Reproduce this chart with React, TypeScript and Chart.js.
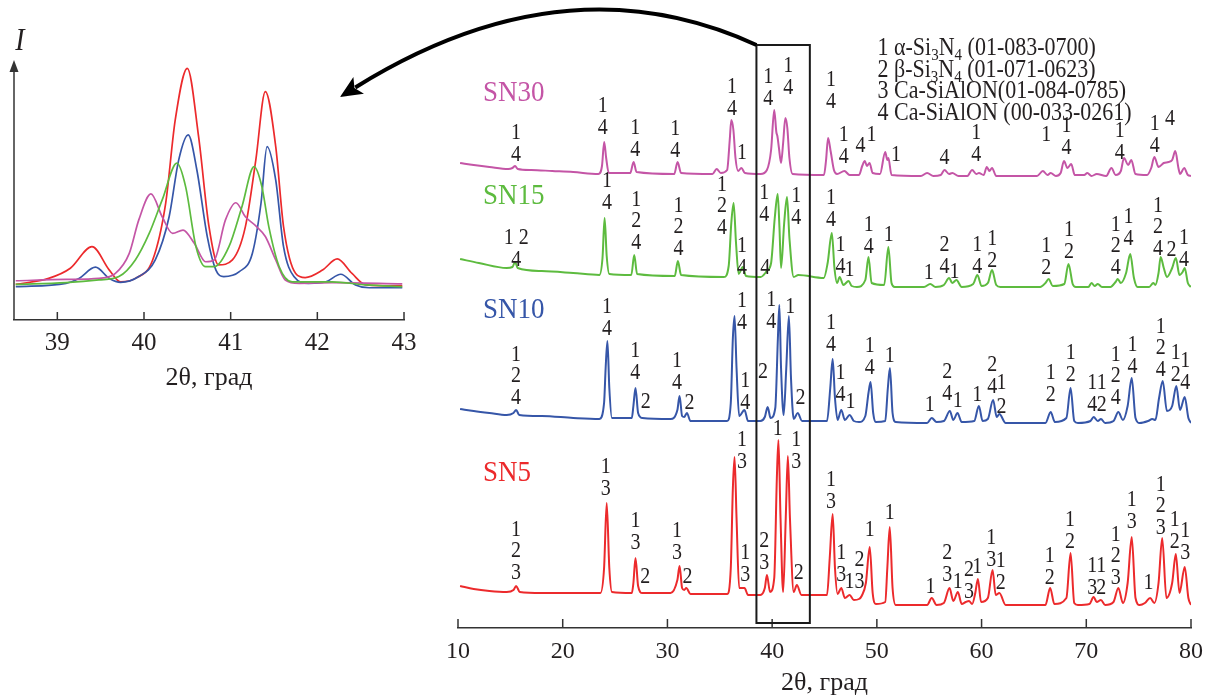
import React, { useEffect, useRef } from "react";
import { Chart, registerables } from "chart.js";

Chart.register(...registerables);

const FONT = '"Liberation Serif", "Times New Roman", serif';
const TEXT = "#231F20";
const AXIS = "#333333";
const RED = "#EC2A2C";
const BLUE = "#3656A8";
const GREEN = "#5DBB3F";
const PINK = "#C455A6";

// ---------- tick labels ----------
const mainTicks = [10, 20, 30, 40, 50, 60, 70, 80];
const insetTicks = [39, 40, 41, 42, 43];

// ---------- main chart: spectra [2θ, I (offset intensity)] ----------
const sn30 = [
  [10.2, 465], [11.5, 463], [13, 461], [14.8, 459], [15.2, 460], [15.45, 462], [15.7, 459], [17, 458], [19, 457], [21, 456],
  [23.4, 454], [23.75, 462], [23.96, 486], [24.15, 470], [24.4, 455], [26.45, 455], [26.77, 466], [27.05, 456], [30.65, 454],
  [30.97, 466], [31.3, 455], [34.3, 454], [34.7, 459], [35.1, 455], [35.7, 458], [35.95, 488], [36.1, 508], [36.3, 498],
  [36.5, 470], [36.75, 457], [37.06, 460], [37.4, 455], [38.9, 454], [39.5, 458], [39.9, 478], [40.2, 518], [40.4, 496],
  [40.5, 492], [40.65, 480], [40.85, 465], [41.05, 485], [41.26, 510], [41.45, 500], [41.65, 470], [41.95, 454], [44.95, 453],
  [45.15, 468], [45.34, 490], [45.6, 476], [45.9, 458], [46.2, 454], [46.9, 457], [47.4, 453], [48.3, 453], [48.6, 462],
  [48.85, 467], [49.05, 462], [49.3, 465], [49.6, 455], [50.3, 454], [50.8, 476], [51.0, 468], [51.1, 470], [51.4, 453],
  [54.2, 452], [54.8, 455], [55.4, 452], [56.1, 453], [56.46, 458], [56.9, 454], [57.2, 455], [57.8, 452], [58.64, 452],
  [59.1, 458], [59.5, 454], [59.75, 455], [60.2, 453], [60.5, 461], [60.75, 457], [61.0, 460], [61.4, 452], [65.3, 452],
  [65.85, 457], [66.3, 453], [66.6, 455], [67.1, 452], [67.55, 455], [67.87, 467], [68.2, 460], [68.56, 464], [68.9, 453],
  [69.8, 453], [70.1, 455], [70.5, 452], [71.0, 454], [71.9, 452], [72.4, 460], [72.8, 453], [73.3, 457], [73.6, 470],
  [74.0, 463], [74.3, 468], [74.7, 454], [75.8, 453], [76.2, 460], [76.5, 471], [76.9, 461], [77.4, 465], [77.85, 466],
  [78.2, 468], [78.5, 477], [78.8, 460], [78.96, 454], [79.35, 460], [79.7, 453], [80, 452],
];

const sn15 = [
  [10.2, 369], [12, 365], [14.65, 360], [15.2, 361], [15.45, 366], [15.7, 360], [18, 357], [21, 355], [23.5, 353], [23.8, 370],
  [24.0, 410], [24.2, 372], [24.45, 354], [26.55, 353], [26.83, 373], [27.1, 354], [30.7, 352], [31.0, 367], [31.3, 353],
  [35.4, 351], [35.85, 362], [36.1, 405], [36.32, 425], [36.55, 385], [36.8, 354], [37.2, 361], [37.5, 352], [38.9, 351],
  [39.5, 357], [39.9, 365], [40.25, 410], [40.53, 434], [40.7, 400], [40.85, 360], [41.15, 405], [41.42, 431], [41.65, 390],
  [42.06, 351], [42.5, 353], [44.93, 350], [45.3, 365], [45.7, 395], [45.95, 360], [46.2, 345], [46.45, 351], [46.8, 343],
  [47.3, 347], [47.6, 342], [48.1, 341], [48.9, 348], [49.2, 371], [49.5, 345], [50.7, 343], [51.1, 381], [51.4, 345],
  [51.7, 341], [54.5, 341], [55.1, 344], [55.6, 341], [56.4, 343], [56.9, 350], [57.2, 345], [57.6, 348], [58.1, 341],
  [59.2, 344], [59.6, 353], [60.0, 342], [60.6, 345], [61.0, 358], [61.4, 343], [61.8, 341], [65.6, 341], [66.1, 345],
  [66.4, 349], [66.8, 342], [67.9, 344], [68.3, 364], [68.7, 344], [69.0, 341], [70.2, 341], [70.5, 345], [70.8, 342],
  [71.1, 344], [71.5, 341], [72.3, 341], [72.8, 346], [73.0, 349], [73.3, 345], [73.8, 355], [74.2, 374], [74.55, 350],
  [74.9, 341], [76.0, 341], [76.4, 345], [76.6, 343], [76.9, 355], [77.1, 371], [77.4, 360], [77.7, 351], [78.2, 360],
  [78.55, 370], [78.9, 353], [79.2, 356], [79.4, 360], [79.7, 345], [80, 341],
];

const sn10 = [
  [10.2, 219], [11.5, 217], [13, 215], [14.65, 213], [15.3, 215], [15.55, 218], [15.85, 213], [18, 212], [21, 210], [23.5, 209],
  [23.95, 225], [24.1, 260], [24.27, 287], [24.45, 240], [24.7, 210], [26.6, 210], [26.75, 222], [26.95, 240], [27.2, 215],
  [27.6, 210], [30.3, 209], [30.95, 218], [31.16, 232], [31.4, 212], [31.6, 211], [31.86, 215], [32.2, 207], [35.7, 207],
  [36.05, 225], [36.25, 290], [36.41, 312], [36.6, 260], [36.85, 212], [37.36, 218], [37.7, 207], [38.87, 207], [39.3, 211],
  [39.57, 221], [39.85, 210], [40.3, 220], [40.55, 290], [40.69, 323], [40.85, 260], [41.1, 213], [41.35, 260], [41.6, 312],
  [41.8, 250], [42.06, 209], [42.44, 215], [42.86, 207], [45.24, 207], [45.55, 240], [45.78, 269], [46.0, 230], [46.25, 208],
  [46.6, 218], [46.95, 208], [47.4, 213], [47.8, 207], [48.3, 206], [48.9, 212], [49.2, 235], [49.4, 246], [49.65, 215],
  [49.9, 206], [50.8, 207], [51.05, 240], [51.25, 260], [51.5, 215], [51.8, 206], [54.8, 205], [55.24, 210], [55.7, 206],
  [56.4, 207], [56.97, 217], [57.3, 208], [57.7, 215], [58.1, 206], [59.3, 207], [59.74, 222], [60.1, 207], [60.6, 209],
  [61.1, 228], [61.45, 211], [61.7, 214], [62.3, 205], [66.1, 205], [66.6, 216], [67.0, 206], [68.1, 210], [68.5, 240],
  [68.85, 207], [69.2, 205], [70.4, 207], [70.7, 211], [71.1, 207], [71.4, 209], [71.8, 205], [72.6, 207], [73.06, 216],
  [73.5, 208], [73.95, 222], [74.34, 250], [74.7, 210], [75.1, 205], [75.9, 207], [76.3, 209], [76.6, 208], [76.95, 230],
  [77.3, 247], [77.7, 217], [78.2, 222], [78.6, 242], [78.95, 218], [79.4, 231], [79.75, 210], [80, 205],
];

const sn5 = [
  [10.2, 42], [11.5, 39], [13, 37], [14.65, 36], [15.3, 38], [15.55, 42], [15.9, 36], [18, 35], [21, 35], [23.6, 35],
  [23.95, 60], [24.2, 125], [24.45, 60], [24.7, 36], [26.6, 35], [26.75, 45], [26.95, 70], [27.2, 42], [27.6, 35], [30.3, 35],
  [30.95, 48], [31.16, 62], [31.4, 40], [31.6, 38], [31.8, 40], [32.2, 34], [35.7, 34], [36.05, 60], [36.25, 140], [36.41, 171],
  [36.6, 110], [36.85, 40], [37.36, 40], [37.7, 33], [38.87, 33], [39.3, 40], [39.5, 53], [39.8, 36], [40.2, 50], [40.45, 150],
  [40.6, 188], [40.8, 110], [41.05, 36], [41.3, 110], [41.5, 172], [41.7, 110], [42.06, 36], [42.36, 43], [42.8, 33],
  [45.24, 33], [45.5, 70], [45.78, 114], [46.0, 60], [46.25, 34], [46.6, 40], [46.95, 30], [47.4, 33], [47.8, 28], [48.3, 29],
  [48.55, 32], [48.95, 45], [49.32, 81], [49.6, 35], [49.9, 24], [50.8, 26], [51.0, 60], [51.23, 101], [51.5, 40], [51.8, 23],
  [54.8, 23], [55.24, 30], [55.7, 23], [56.4, 25], [56.94, 40], [57.3, 27], [57.74, 36], [58.1, 24], [58.5, 26], [58.8, 27],
  [59.1, 24], [59.4, 35], [59.65, 49], [59.95, 26], [60.6, 30], [61.05, 58], [61.35, 33], [61.7, 35], [62.3, 23], [66.1, 23],
  [66.55, 40], [66.95, 24], [68.1, 30], [68.5, 75], [68.85, 25], [69.2, 23], [70.3, 24], [70.7, 31], [71.0, 26], [71.4, 28],
  [71.8, 23], [72.6, 26], [73.06, 40], [73.5, 25], [73.95, 45], [74.34, 91], [74.7, 30], [75.1, 23], [75.6, 25], [76.1, 30],
  [76.5, 25], [76.9, 45], [77.25, 90], [77.65, 30], [78.2, 45], [78.55, 74], [78.9, 35], [79.4, 61], [79.75, 30], [80, 23],
];

// ---------- peak labels [2θ, I of lowest line, text] ----------
const sn30Peaks = [
  [15.54, 473, "1\n4"], [23.83, 500, "1\n4"], [26.92, 478, "1\n4"], [30.75, 477, "1\n4"], [36.17, 519, "1\n4"],
  [37.12, 475, "1"], [39.64, 529, "1\n4"], [41.55, 540, "1\n4"], [45.63, 526, "1\n4"], [46.84, 471, "1\n4"],
  [48.43, 482, "4"], [49.48, 493, "1"], [51.84, 473, "1"], [56.46, 470, "4"], [59.49, 473, "1\n4"], [66.18, 493, "1"],
  [68.1, 480, "1\n4"], [73.19, 475, "1\n4"], [76.54, 482, "1\n4"], [78.0, 509, "4"],
];
const sn15Peaks = [
  [15.56, 368, "1 2\n4"], [24.22, 425, "1\n4"], [27.02, 385, "1\n2\n4"], [31.06, 379, "1\n2\n4"], [35.21, 400, "1\n2\n4"],
  [37.12, 360, "1\n4"], [39.35, 360, "4"], [39.25, 413, "1\n4"], [42.31, 410, "1\n4"], [45.63, 408, "1\n4"],
  [46.52, 361, "1\n4"], [47.38, 358, "1"], [49.23, 381, "1\n4"], [51.14, 393, "1"], [54.96, 355, "1"], [56.46, 361, "2\n4"],
  [57.42, 356, "1"], [59.59, 361, "1\n4"], [61.02, 367, "1\n2"], [66.18, 360, "1\n2"], [68.35, 376, "1\n2"],
  [72.81, 360, "1\n2\n4"], [74.02, 389, "1\n4"], [76.85, 379, "1\n2\n4"], [78.14, 378, "2"], [79.34, 368, "1\n4"],
];
const sn10Peaks = [
  [15.54, 230, "1\n2\n4"], [24.22, 299, "1\n4"], [26.92, 255, "1\n4"], [27.94, 226, "2"], [30.91, 245, "1\n4"],
  [32.11, 225, "2"], [37.12, 305, "1\n4"], [37.44, 225, "1\n4"], [39.13, 256, "2"], [39.92, 306, "1\n4"], [41.74, 321, "1"],
  [42.7, 230, "2"], [45.63, 283, "1\n4"], [46.52, 233, "1\n4"], [47.48, 226, "1"], [49.32, 260, "1\n4"], [51.23, 272, "1"],
  [55.06, 223, "1"], [56.72, 234, "2\n4"], [57.73, 227, "1"], [59.59, 233, "1"], [61.02, 241, "2\n4"], [61.91, 245, "1"],
  [61.91, 221, "2"], [66.6, 233, "1\n2"], [68.51, 253, "1\n2"], [70.58, 223, "1\n4"], [71.47, 223, "1\n2"],
  [72.81, 230, "1\n2\n4"], [74.41, 261, "1\n4"], [77.11, 258, "1\n2\n4"], [78.55, 253, "1\n2"], [79.46, 245, "1\n4"],
];
const sn5Peaks = [
  [15.54, 55, "1\n2\n3"], [24.12, 139, "1\n3"], [26.95, 85, "1\n3"], [27.88, 51, "2"], [30.91, 75, "1\n3"], [31.92, 51, "2"],
  [37.12, 166, "1\n3"], [37.44, 53, "1\n3"], [39.25, 65, "2\n3"], [40.53, 199, "1"], [42.31, 166, "1\n3"], [42.53, 55, "2"],
  [45.63, 126, "1\n3"], [46.59, 53, "1\n3"], [47.38, 46, "1"], [48.34, 46, "2\n3"], [49.32, 98, "1"], [51.23, 115, "1"],
  [55.12, 41, "1"], [56.72, 53, "2\n3"], [57.73, 46, "1"], [58.79, 36, "2\n3"], [59.59, 61, "1"], [60.93, 68, "1\n3"],
  [61.82, 45, "1\n2"], [66.5, 50, "1\n2"], [68.44, 86, "1\n2"], [70.58, 40, "1\n3"], [71.44, 40, "1\n2"],
  [72.81, 50, "1\n2\n3"], [74.34, 106, "1\n3"], [75.94, 45, "1"], [77.11, 100, "1\n2\n3"], [78.45, 86, "1\n2"],
  [79.46, 75, "1\n3"],
];

// ---------- series names [name, 2θ (left), I] ----------
const seriesNames = [
  ["SN30", 12.39, 535, PINK],
  ["SN15", 12.39, 432, GREEN],
  ["SN10", 12.39, 318, BLUE],
  ["SN5", 12.39, 155, RED],
];

// ---------- phase legend ("_" marks a subscript) ----------
const legendLines = [
  "1 α-Si_3N_4 (01-083-0700)",
  "2 β-Si_3N_4 (01-071-0623)",
  "3 Ca-SiAlON(01-084-0785)",
  "4 Ca-SiAlON (00-033-0261)",
];

// ---------- inset spectra [2θ, I] ----------
const insetRed = [
  [38.52, 13.7], [38.9, 16.0], [39.15, 19.9], [39.4, 28.2], [39.6, 19.2], [39.73, 14.7], [39.9, 16.0], [40.1, 23.1],
  [40.25, 44.9], [40.36, 76.9], [40.5, 96.8], [40.63, 70.5], [40.75, 35.9], [40.86, 21.2], [41.02, 23.1], [41.17, 35.9],
  [41.29, 61.5], [41.4, 87.8], [41.52, 66.7], [41.61, 35.9], [41.75, 17.9], [41.86, 16.3], [42.06, 19.2], [42.23, 23.5],
  [42.4, 17.9], [42.56, 13.5], [42.98, 13.1],
];
const insetBlue = [
  [38.52, 12.8], [39.1, 14.1], [39.25, 16.0], [39.44, 20.3], [39.6, 16.0], [39.73, 14.5], [39.94, 16.7], [40.13, 23.1],
  [40.29, 39.7], [40.4, 61.5], [40.51, 71.2], [40.61, 57.7], [40.73, 32.1], [40.83, 19.2], [40.92, 16.7], [41.1, 18.6],
  [41.25, 25.6], [41.35, 44.9], [41.42, 66.7], [41.52, 53.8], [41.61, 28.2], [41.73, 16.7], [41.9, 14.1], [42.1, 14.7],
  [42.27, 17.6], [42.44, 13.5], [42.6, 12.4], [42.98, 12.4],
];
const insetGreen = [
  [38.52, 13.7], [39.1, 14.4], [39.48, 15.4], [39.71, 16.7], [39.9, 23.1], [40.06, 33.3], [40.21, 46.2], [40.38, 60.3],
  [40.48, 51.3], [40.6, 28.2], [40.71, 20.5], [40.81, 20.5], [40.98, 28.2], [41.13, 43.6], [41.27, 59.0], [41.36, 51.3],
  [41.44, 35.9], [41.56, 20.5], [41.71, 14.7], [42.17, 14.7], [42.56, 13.5], [42.98, 12.8],
];
const insetPink = [
  [38.52, 15.1], [39.1, 15.6], [39.48, 16.0], [39.67, 17.9], [39.83, 25.6], [39.94, 38.5], [40.08, 48.5], [40.21, 39.7],
  [40.33, 33.3], [40.45, 34.6], [40.58, 29.5], [40.71, 22.4], [40.81, 23.1], [40.94, 38.5], [41.06, 45.1], [41.17, 39.7],
  [41.29, 36.2], [41.4, 32.1], [41.52, 23.1], [41.63, 15.4], [41.79, 14.1], [42.17, 14.4], [42.98, 13.9],
];

// ---------- decoration layout ----------
const zoomBox = { x0: 38.5, x1: 43.6, y0: 5, y1: 583 };
const arrowCtrl = [565, -43];
const arrowTip = [340, 97];
const STRETCH = 1.12;

const toXY = (arr: number[][]) => arr.map(([x, y]) => ({ x, y }));

function fillStretched(ctx: CanvasRenderingContext2D, s: string, x: number, y: number) {
  ctx.save();
  ctx.translate(x, y);
  ctx.scale(1, STRETCH);
  ctx.fillText(s, 0, 0);
  ctx.restore();
}

function drawRich(ctx: CanvasRenderingContext2D, s: string, x: number, y: number, size: number) {
  let cx = x;
  let i = 0;
  while (i < s.length) {
    let sub = false;
    let run = "";
    if (s[i] === "_") {
      sub = true;
      run = s[i + 1];
      i += 2;
    } else {
      while (i < s.length && s[i] !== "_") {
        run += s[i];
        i++;
      }
    }
    ctx.font = `${sub ? Math.round(size * 0.68) : size}px ${FONT}`;
    fillStretched(ctx, run, cx, sub ? y + size * 0.3 : y);
    cx += ctx.measureText(run).width;
  }
}

const zeroPad = (s: any) => {
  s.paddingLeft = 0;
  s.paddingRight = 0;
};

export default function App() {
  const mainRef = useRef<HTMLCanvasElement>(null);
  const insetRef = useRef<HTMLCanvasElement>(null);

  useEffect(() => {
    const lineDs = (label: string, data: number[][], color: string, w: number) => ({
      label,
      data: toXY(data),
      borderColor: color,
      backgroundColor: color,
      borderWidth: w,
      pointRadius: 0,
      cubicInterpolationMode: "monotone" as const,
      fill: false,
    });

    const mainPlugin = {
      id: "mainDeco",
      afterDraw(chart: any) {
        const { ctx, chartArea, scales } = chart;
        const xs = scales.x;
        const ys = scales.y;
        ctx.save();
        // inner tick marks
        ctx.strokeStyle = AXIS;
        ctx.lineWidth = 1.5;
        mainTicks.forEach((v) => {
          const px = xs.getPixelForValue(v);
          ctx.beginPath();
          ctx.moveTo(px, chartArea.bottom);
          ctx.lineTo(px, chartArea.bottom - 9);
          ctx.stroke();
        });
        // zoom rectangle
        const rx0 = xs.getPixelForValue(zoomBox.x0);
        const rx1 = xs.getPixelForValue(zoomBox.x1);
        const ry0 = ys.getPixelForValue(zoomBox.y0);
        const ry1 = ys.getPixelForValue(zoomBox.y1);
        ctx.strokeStyle = "#1a1a1a";
        ctx.lineWidth = 2;
        ctx.strokeRect(rx0, ry1, rx1 - rx0, ry0 - ry1);
        // arrow
        const [cx, cy] = arrowCtrl;
        const [tx, ty] = arrowTip;
        let dx = tx - cx;
        let dy = ty - cy;
        const len = Math.hypot(dx, dy);
        dx /= len;
        dy /= len;
        const headL = 22;
        const bx = tx - dx * headL;
        const by = ty - dy * headL;
        ctx.strokeStyle = "#000";
        ctx.lineWidth = 4;
        ctx.beginPath();
        ctx.moveTo(rx0, ry1);
        ctx.quadraticCurveTo(cx, cy, bx + dx * 4, by + dy * 4);
        ctx.stroke();
        ctx.fillStyle = "#000";
        ctx.beginPath();
        ctx.moveTo(tx, ty);
        ctx.lineTo(bx - dy * 10, by + dx * 10);
        ctx.lineTo(bx + dx * 5, by + dy * 5);
        ctx.lineTo(bx + dy * 10, by - dx * 10);
        ctx.closePath();
        ctx.fill();
        // peak labels
        ctx.fillStyle = TEXT;
        ctx.font = `20px ${FONT}`;
        ctx.textAlign = "center";
        ctx.textBaseline = "middle";
        const gap = 21.5;
        [sn30Peaks, sn15Peaks, sn10Peaks, sn5Peaks].forEach((list) => {
          list.forEach(([t, I, txt]: any) => {
            const px = xs.getPixelForValue(t);
            const pyB = ys.getPixelForValue(I);
            const lines = String(txt).split("\n");
            const n = lines.length;
            lines.forEach((ln, i) => fillStretched(ctx, ln, px, pyB - (n - 1 - i) * gap));
          });
        });
        // series names
        ctx.textAlign = "left";
        ctx.font = `27px ${FONT}`;
        seriesNames.forEach(([name, t, I, col]: any) => {
          ctx.fillStyle = col;
          fillStretched(ctx, name, xs.getPixelForValue(t), ys.getPixelForValue(I));
        });
        // phase legend
        ctx.fillStyle = TEXT;
        legendLines.forEach((s, i) => {
          drawRich(ctx, s, xs.getPixelForValue(50.06), ys.getPixelForValue(579 - i * 21.5), 22);
        });
        ctx.restore();
      },
    };

    const main = new Chart(mainRef.current as HTMLCanvasElement, {
      type: "line",
      data: {
        datasets: [
          lineDs("SN5", sn5, RED, 2),
          lineDs("SN10", sn10, BLUE, 2),
          lineDs("SN15", sn15, GREEN, 2),
          lineDs("SN30", sn30, PINK, 2),
        ],
      },
      options: {
        responsive: false,
        devicePixelRatio: 1,
        animation: false,
        layout: { padding: { left: 458, right: 16, top: 20, bottom: 1.4 } },
        plugins: { legend: { display: false }, tooltip: { enabled: false } },
        scales: {
          x: {
            type: "linear",
            min: 10,
            max: 80,
            afterBuildTicks: (s: any) => {
              s.ticks = mainTicks.map((v) => ({ value: v }));
            },
            afterFit: zeroPad,
            grid: { display: false, drawTicks: false },
            border: { display: true, color: AXIS, width: 1.5 },
            ticks: {
              autoSkip: false,
              maxRotation: 0,
              padding: 9.6,
              color: TEXT,
              font: { family: FONT, size: 24 },
              callback: (v: any) => String(v),
            },
            title: {
              display: true,
              text: "2θ, град",
              color: TEXT,
              font: { family: FONT, size: 26 },
              padding: { top: -8.6, bottom: 0 },
            },
          },
          y: { display: false, min: 0, max: 608 },
        },
      },
      plugins: [mainPlugin],
    } as any);

    const insetPlugin = {
      id: "insetDeco",
      afterDraw(chart: any) {
        const { ctx, chartArea, scales } = chart;
        const xs = scales.x;
        ctx.save();
        ctx.strokeStyle = AXIS;
        ctx.fillStyle = AXIS;
        ctx.lineWidth = 1.5;
        const lx = chartArea.left;
        ctx.beginPath();
        ctx.moveTo(lx, chartArea.bottom);
        ctx.lineTo(lx, chartArea.top + 6);
        ctx.stroke();
        ctx.beginPath();
        ctx.moveTo(lx, chartArea.top);
        ctx.lineTo(lx - 4.5, chartArea.top + 12);
        ctx.lineTo(lx + 4.5, chartArea.top + 12);
        ctx.closePath();
        ctx.fill();
        insetTicks.forEach((v) => {
          const px = xs.getPixelForValue(v);
          ctx.beginPath();
          ctx.moveTo(px, chartArea.bottom);
          ctx.lineTo(px, chartArea.bottom - 8);
          ctx.stroke();
        });
        ctx.fillStyle = TEXT;
        ctx.font = `italic 28px ${FONT}`;
        ctx.textAlign = "center";
        ctx.textBaseline = "middle";
        fillStretched(ctx, "I", lx + 6, chartArea.top - 18);
        ctx.restore();
      },
    };

    const inset = new Chart(insetRef.current as HTMLCanvasElement, {
      type: "line",
      data: {
        datasets: [
          lineDs("SN15", insetGreen, GREEN, 1.7),
          lineDs("SN30", insetPink, PINK, 1.7),
          lineDs("SN10", insetBlue, BLUE, 1.7),
          lineDs("SN5", insetRed, RED, 1.7),
        ],
      },
      options: {
        responsive: false,
        devicePixelRatio: 1,
        animation: false,
        layout: { padding: { left: 14, right: 36, top: 60, bottom: 6.4 } },
        plugins: { legend: { display: false }, tooltip: { enabled: false } },
        scales: {
          x: {
            type: "linear",
            min: 38.5,
            max: 43,
            afterBuildTicks: (s: any) => {
              s.ticks = insetTicks.map((v) => ({ value: v }));
            },
            afterFit: zeroPad,
            grid: { display: false, drawTicks: false },
            border: { display: true, color: AXIS, width: 1.5 },
            ticks: {
              autoSkip: false,
              maxRotation: 0,
              padding: 8,
              color: TEXT,
              font: { family: FONT, size: 25 },
              callback: (v: any) => String(v),
            },
            title: {
              display: true,
              text: "2θ, град",
              color: TEXT,
              font: { family: FONT, size: 26 },
              padding: { top: -3.6, bottom: 0 },
            },
          },
          y: { display: false, min: 0, max: 100 },
        },
      },
      plugins: [insetPlugin],
    } as any);

    return () => {
      main.destroy();
      inset.destroy();
    };
  }, []);

  return (
    <div
      style={{
        position: "absolute",
        left: 0,
        top: 0,
        width: 1207,
        height: 695,
        overflow: "hidden",
        background: "#fff",
      }}
    >
      <canvas ref={mainRef} width={1207} height={700} style={{ position: "absolute", left: 0, top: 0 }} />
      <canvas ref={insetRef} width={440} height={400} style={{ position: "absolute", left: 0, top: 0 }} />
    </div>
  );
}
